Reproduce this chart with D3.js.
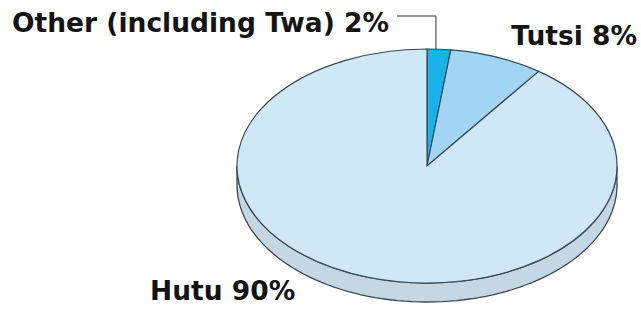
<!DOCTYPE html>
<html>
<head>
<meta charset="utf-8">
<script src="https://cdn.jsdelivr.net/npm/d3@7"></script>
<style>
  body { margin: 0; background: #fff; }
  text { font-family: "DejaVu Sans", sans-serif; font-weight: bold; fill: #141414; }
</style>
</head>
<body>
<svg id="chart" width="641" height="310"></svg>
<script>
// data
const groups = ["Other (including Twa)", "Tutsi", "Hutu"];
const shares = [2, 8, 90];
const colors = ["#1ab2e9", "#a2d5f4", "#cfe8f7"];

const svg = d3.select("#chart");

const cx = 427, cy = 166, rx = 190, ry = 117, depth = 19;
const sideColor = "#c4d7e3";
const edge = "#3a4954";

const pie = d3.pie().sort(null).value(d => d.v);
const arcs = pie(groups.map((g, i) => ({ name: g, v: shares[i], color: colors[i] })));

// point on the top ellipse for angle a (0 = 12 o'clock, clockwise)
const pt = (a, dy = 0) => [cx + rx * Math.sin(a), cy - ry * Math.cos(a) + dy];

// side wall (front half only)
const line = d3.line();
arcs.forEach(d => {
  const s = Math.max(d.startAngle, Math.PI / 2), e = Math.min(d.endAngle, 3 * Math.PI / 2);
  if (e <= s) return;
  const n = 80, topPts = [], botPts = [];
  for (let i = 0; i <= n; i++) {
    const a = s + (e - s) * i / n;
    topPts.push(pt(a));
    botPts.push(pt(a, depth));
  }
  svg.append("path")
    .attr("d", line(topPts.concat(botPts.reverse())) + "Z")
    .attr("fill", sideColor)
    .attr("stroke", edge)
    .attr("stroke-width", 1.3);
});

// top face
const arc = d3.arc().innerRadius(0).outerRadius(rx);
svg.append("g")
  .attr("transform", `translate(${cx},${cy}) scale(1,${ry / rx})`)
  .selectAll("path")
  .data(arcs)
  .enter().append("path")
  .attr("d", arc)
  .attr("fill", d => d.data.color)
  .attr("stroke", edge)
  .attr("stroke-width", 1.2)
  .attr("vector-effect", "non-scaling-stroke");

// labels
const fmt = d => `${d.data.name} ${d.data.v}%`;

svg.append("text").attr("x", 12).attr("y", 32).attr("font-size", 26.5).text(fmt(arcs[0]));
svg.append("text").attr("x", 637).attr("y", 45).attr("font-size", 26.5)
  .attr("text-anchor", "end").text(fmt(arcs[1]));
svg.append("text").attr("x", 150).attr("y", 300).attr("font-size", 26.5).text(fmt(arcs[2]));

// leader line for the small slice
const mid = (arcs[0].startAngle + arcs[0].endAngle) / 2;
const tip = pt(mid);
svg.append("path")
  .attr("d", line([[397, 16], [tip[0] - 3, 16], [tip[0] - 3, tip[1]]]))
  .attr("fill", "none")
  .attr("stroke", "#333")
  .attr("stroke-width", 1);
</script>
</body>
</html>
